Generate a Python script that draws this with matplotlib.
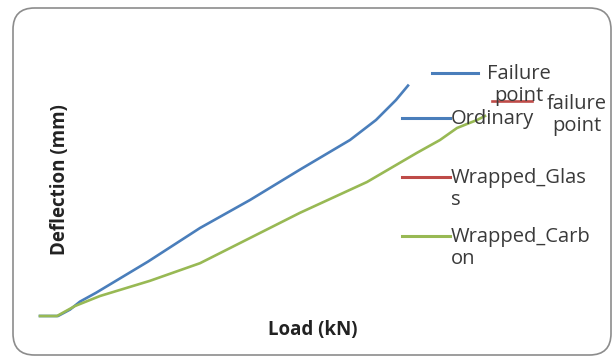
import matplotlib.pyplot as plt
from matplotlib.patches import FancyBboxPatch
from matplotlib.lines import Line2D

# data (arbitrary units, no ticks on the original)
load_ordinary = [0, 4.5, 7.5, 10, 14, 18, 27, 40, 52.5, 65, 77.5, 84, 89, 92]
defl_ordinary = [0, 0, 0.8, 1.8, 2.9, 4.1, 6.8, 11, 14.5, 18.3, 22, 24.5, 27, 28.8]

load_carbon = [0, 4.25, 8.75, 15, 27.5, 40, 52.5, 65, 81.75, 94.25, 100, 104.25, 109.25, 111.25]
defl_carbon = [0, 0, 1.25, 2.5, 4.4, 6.6, 9.75, 12.9, 16.75, 20.4, 22, 23.5, 24.5, 25]

load_failure = [113, 123]
defl_failure = [26.9, 26.9]

BLUE = '#4a7ebb'
RED = '#be4b48'
GREEN = '#98b954'

W, H = 613, 361
plt.rcParams['font.family'] = ['Open Sans', 'DejaVu Sans']

fig = plt.figure(figsize=(W / 100, H / 100), dpi=100)


def px(x, y):
    # pixel position -> figure fraction
    return x / W, 1 - y / H


# rounded chart frame
x0, y0 = px(13, 355)
x1, y1 = px(611, 8)
frame = FancyBboxPatch((x0, y0), x1 - x0, y1 - y0,
                       boxstyle='round,pad=0,rounding_size=0.035',
                       transform=fig.transFigure, facecolor='white',
                       edgecolor='#8c8c8c', linewidth=1.2, mutation_aspect=W / H,
                       zorder=-5)
fig.patches.append(frame)

ax = fig.add_axes([0, 0, 1, 1])
ax.set_xlim(-10, (W - 40) / 4)
ax.set_ylim((316 - H) / 8, 316 / 8)
ax.axis('off')
ax.patch.set_alpha(0)

ax.plot(load_ordinary, defl_ordinary, color=BLUE, lw=1.9, zorder=3)
ax.plot(load_carbon, defl_carbon, color=GREEN, lw=1.9, zorder=3)

# axis titles
fig.text(*px(60, 180), 'Deflection (mm)', rotation=90, ha='center', va='center',
         fontsize=13.5, fontweight='bold', color='#222222')
fig.text(*px(313, 330), 'Load (kN)', ha='center', va='center',
         fontsize=13.5, fontweight='bold', color='#222222')

# legend, drawn by hand to keep the wrapped labels of the original
entries = [
    (432, 478, 73, BLUE, 'Failure\npoint', 487),
    (402, 450, 118, BLUE, 'Ordinary', 451),
    (402, 450, 177, RED, 'Wrapped_Glas\ns', 451),
    (402, 450, 236, GREEN, 'Wrapped_Carb\non', 451),
]
for xa, xb, y, col, label, xt in entries:
    (fa, fy), (fb, _) = px(xa, y), px(xb, y)
    fig.add_artist(Line2D([fa, fb], [fy, fy], color=col, lw=2.2,
                          transform=fig.transFigure, zorder=2))
    fig.text(*px(xt, y - 9), label, ha='left', va='top', fontsize=14.5,
             color='#3a3a3a', linespacing=1.15, zorder=2,
             multialignment='center' if label.startswith('Failure') else 'left')

# failure point of the glass-wrapped specimen, with its data label
ax.plot(load_failure, defl_failure, color=RED, lw=1.9, zorder=5)
fig.text(*px(577, 94), 'failure\npoint', ha='center', va='top', fontsize=14.5,
         color='#3a3a3a', linespacing=1.15)

fig.savefig('out.png', dpi=100)
